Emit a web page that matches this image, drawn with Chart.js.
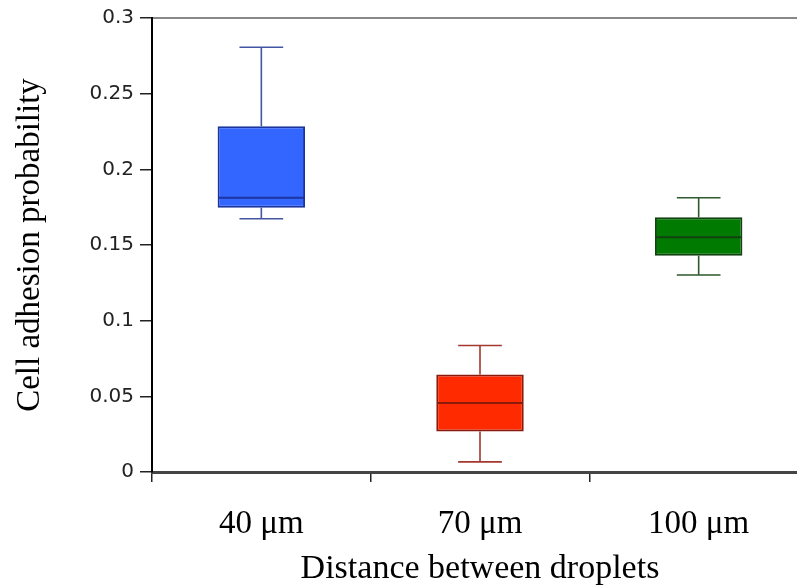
<!DOCTYPE html>
<html>
<head>
<meta charset="utf-8">
<script src="https://cdn.jsdelivr.net/npm/chart.js@4.4.1/dist/chart.umd.min.js"></script>
<style>
  html, body { margin: 0; padding: 0; background: #fff; overflow: hidden; }
  #wrap { width: 808px; height: 586px; }
</style>
</head>
<body>
<div id="wrap"><canvas id="boxChart" width="808" height="586"></canvas></div>
<script>
// distances (categories)
const categories = ['40 \u03bcm', '70 \u03bcm', '100 \u03bcm'];

// box plot values
const whiskerLow = [0.1673, 0.0067, 0.1302];
const quartile1 = [0.1746, 0.0267, 0.1429];
const medians = [0.1812, 0.0456, 0.1551];
const quartile3 = [0.2285, 0.0645, 0.1683];
const whiskerHigh = [0.2807, 0.0836, 0.1812];

const yTicks = [0, 0.05, 0.1, 0.15, 0.2, 0.25, 0.3];

const fillColors = ['#3366ff', '#ff2a00', '#007a00'];
const edgeColors = ['#1b349e', '#8a1a0c', '#124212'];
const whiskerColors = ['#4356a3', '#a3392e', '#2e5a2e'];

const boxes = categories.map((c, i) => [quartile1[i], quartile3[i]]);

const whiskerPlugin = {
  id: 'whiskers',
  beforeDatasetsDraw(chart) {
    const ctx = chart.ctx;
    const y = chart.scales.y;
    const meta = chart.getDatasetMeta(0);
    meta.data.forEach((bar, i) => {
      const cx = bar.x;
      const cap = bar.width / 4;
      ctx.save();
      ctx.strokeStyle = whiskerColors[i];
      ctx.lineWidth = 1.6;
      ctx.beginPath();
      ctx.moveTo(cx, y.getPixelForValue(whiskerHigh[i]));
      ctx.lineTo(cx, y.getPixelForValue(quartile3[i]));
      ctx.moveTo(cx, y.getPixelForValue(quartile1[i]));
      ctx.lineTo(cx, y.getPixelForValue(whiskerLow[i]));
      ctx.moveTo(cx - cap, y.getPixelForValue(whiskerHigh[i]));
      ctx.lineTo(cx + cap, y.getPixelForValue(whiskerHigh[i]));
      ctx.moveTo(cx - cap, y.getPixelForValue(whiskerLow[i]));
      ctx.lineTo(cx + cap, y.getPixelForValue(whiskerLow[i]));
      ctx.stroke();
      ctx.restore();
    });
  },
  afterDatasetsDraw(chart) {
    const ctx = chart.ctx;
    const y = chart.scales.y;
    const meta = chart.getDatasetMeta(0);
    meta.data.forEach((bar, i) => {
      const half = bar.width / 2;
      const my = y.getPixelForValue(medians[i]);
      ctx.save();
      ctx.strokeStyle = edgeColors[i];
      ctx.lineWidth = 2;
      ctx.beginPath();
      ctx.moveTo(bar.x - half + 1, my);
      ctx.lineTo(bar.x + half - 1, my);
      ctx.stroke();
      ctx.restore();
    });
  }
};

const config = {
  type: 'bar',
  data: {
    labels: categories,
    datasets: [{
      data: boxes,
      backgroundColor: fillColors,
      borderColor: edgeColors,
      borderWidth: 2,
      borderSkipped: false,
      barPercentage: 0.4,
      categoryPercentage: 1
    }]
  },
  options: {
    responsive: false,
    animation: false,
    layout: { padding: 0 },
    plugins: {
      legend: { display: false },
      tooltip: { enabled: false }
    },
    scales: {
      x: {
        type: 'category',
        position: 'bottom',
        afterFit(scale) { scale.height = 114; },
        border: { display: true, color: '#444', width: 3 },
        grid: { display: true, drawOnChartArea: false, offset: true, tickLength: 10, color: '#222', lineWidth: 1.5 },
        ticks: { color: '#000', padding: 23, font: { family: 'Liberation Serif', size: 33 } },
        title: {
          display: true,
          text: 'Distance between droplets',
          color: '#000',
          padding: { top: 0, bottom: 0 },
          font: { family: 'Liberation Serif', size: 34, lineHeight: 1 }
        }
      },
      xTop: {
        type: 'category',
        position: 'top',
        afterFit(scale) { scale.height = 17.5; },
        border: { display: true, color: '#888', width: 2 },
        grid: { display: false },
        ticks: { display: false }
      },
      y: {
        type: 'linear',
        min: 0,
        max: 0.3,
        afterFit(scale) { scale.width = 152; },
        afterBuildTicks(scale) { scale.ticks = yTicks.map(v => ({ value: v })); },
        border: { display: true, color: '#000', width: 2 },
        grid: { display: true, drawOnChartArea: false, tickLength: 12, color: '#222', lineWidth: 1.5 },
        ticks: {
          color: '#222',
          padding: 6,
          font: { family: 'DejaVu Sans', size: 20 },
          callback: (v) => String(+Number(v).toFixed(2))
        },
        title: {
          display: true,
          text: 'Cell adhesion probability',
          color: '#000',
          padding: { top: 11, bottom: 0 },
          font: { family: 'Liberation Serif', size: 33 }
        }
      }
    }
  },
  plugins: [whiskerPlugin]
};

const boxChart = new Chart(document.getElementById('boxChart').getContext('2d'), config);
</script>
</body>
</html>
